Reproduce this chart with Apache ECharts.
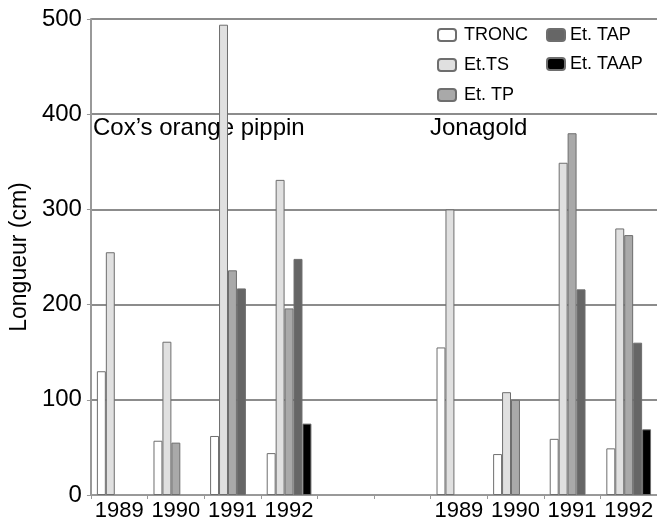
<!DOCTYPE html>
<html>
<head>
<meta charset="utf-8">
<script src="https://cdn.jsdelivr.net/npm/echarts@6/dist/echarts.min.js"></script>
<style>
html, body { margin: 0; padding: 0; background: #fff; }
#chart { width: 657px; height: 526px; }
</style>
</head>
<body>
<div id="chart"></div>
<script>
// categories: two cultivars, 4 years each, with 2 empty slots between
const categories = ['c89', 'c90', 'c91', 'c92', 'e1', 'e2', 'j89', 'j90', 'j91', 'j92'];
const yearLabels = ['1989', '1990', '1991', '1992', '', '', '1989', '1990', '1991', '1992'];

// lengths (cm)
const tronc = [130, 57, 62, 44, null, null, 155, 43, 59, 49];
const etTS  = [255, 161, 494, 331, null, null, 300, 108, 349, 280];
const etTP  = [null, 55, 236, 196, null, null, null, 100, 380, 273];
const etTAP = [null, null, 217, 248, null, null, null, null, 216, 160];
const etTAAP = [null, null, null, 75, null, null, null, null, null, 69];

const chart = echarts.init(document.getElementById('chart'));

const font = 'Liberation Sans, Arial, sans-serif';
const border = '#6e6e6e';

function bar(name, data, color) {
    return {
        name: name,
        type: 'bar',
        data: data,
        barGap: '0%',
        barCategoryGap: '21%',
        itemStyle: { color: color, borderColor: border, borderWidth: 1 },
        animation: false
    };
}

chart.setOption({
    animation: false,
    grid: { left: 87, right: 0, top: 19, bottom: 31 },
    legend: [
        {
            data: ['TRONC', 'Et.TS', 'Et. TP'],
            orient: 'vertical',
            left: 432, top: 21,
            itemWidth: 18, itemHeight: 12, itemGap: 12,
            textStyle: { fontFamily: font, fontSize: 18, color: '#000', padding: [0, 0, 0, 3] }
        },
        {
            data: ['Et. TAP', 'Et. TAAP'],
            orient: 'vertical',
            left: 541, top: 21,
            itemWidth: 18, itemHeight: 12, itemGap: 11,
            textStyle: { fontFamily: font, fontSize: 18, color: '#000' }
        }
    ],
    xAxis: {
        type: 'category',
        data: categories,
        axisLine: { lineStyle: { color: '#999', width: 2 } },
        axisTick: { show: true, length: 4, lineStyle: { color: '#999' } },
        axisLabel: {
            interval: 0,
            margin: 5,
            fontFamily: font, fontSize: 22, color: '#000',
            formatter: (v, i) => yearLabels[i]
        }
    },
    yAxis: {
        type: 'value',
        min: 0, max: 500, interval: 100,
        name: 'Longueur (cm)',
        nameLocation: 'middle',
        nameGap: 58,
        nameTextStyle: { fontFamily: font, fontSize: 23, color: '#000' },
        axisLine: { show: true, lineStyle: { color: '#999', width: 2 } },
        axisTick: { show: true, length: 4, lineStyle: { color: '#999' } },
        axisLabel: { fontFamily: font, fontSize: 24, color: '#000', margin: 9 },
        splitLine: { lineStyle: { color: '#8c8c8c', width: 2 } }
    },
    graphic: [
        { type: 'text', left: 93, top: 116,
          style: { text: 'Cox\u2019s orange pippin', font: '24px ' + font, fill: '#000' } },
        { type: 'text', left: 430, top: 116,
          style: { text: 'Jonagold', font: '24px ' + font, fill: '#000' } }
    ],
    series: [
        bar('TRONC', tronc, '#ffffff'),
        bar('Et.TS', etTS, '#e0e0e0'),
        bar('Et. TP', etTP, '#a9a9a9'),
        bar('Et. TAP', etTAP, '#666666'),
        bar('Et. TAAP', etTAAP, '#000000')
    ]
});
</script>
</body>
</html>
